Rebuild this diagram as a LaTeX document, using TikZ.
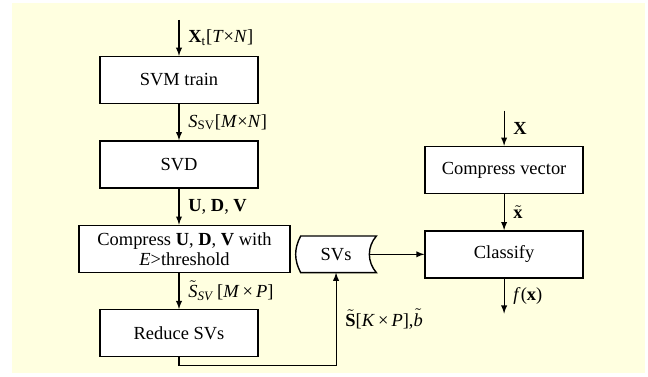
\documentclass[tikz,border=0pt]{standalone}
\usepackage{fontspec}
\setmainfont{Liberation Serif}
\usepackage{tikz}
\usetikzlibrary{arrows, positioning}
\definecolor{paper}{RGB}{255,255,224}
\newcommand{\tl}[1]{\ensuremath{\tilde{\mbox{#1}}}}
\tikzstyle{stage} = [rectangle, draw, line width=0.8pt, minimum width=3.16cm, minimum height=0.94cm, text centered, fill=white]
\tikzstyle{store} = [rectangle, minimum width=1.6cm, minimum height=0.72cm, text centered]
\tikzstyle{flow} = [line width=0.6pt, ->, >=latex]
\tikzstyle{lab} = [anchor=west, xshift=0.06cm]

\begin{document}
\begin{tikzpicture}[align=center, node distance=0.72cm, font=\fontsize{10.5}{11.5}\selectfont]
  \useasboundingbox (-3.58,1.6) rectangle (9.38,-5.92);
  \fill[paper] (-3.34,1.54) rectangle (9.32,-5.86);
  % training chain
  \node (svm) [stage] {SVM train};
  \node (svd) [stage, below=of svm] {SVD};
  \node (comp) [stage, minimum width=4.22cm, below=of svd, xshift=0.11cm] {Compress \textbf{U}, \textbf{D}, \textbf{V} with\\\textit{E}>threshold};
  \node (red) [stage, below=of comp, xshift=-0.11cm] {Reduce SVs};
  \coordinate (xtin) at ([yshift=0.72cm]svm.north);
  \coordinate (turn) at ([yshift=-0.16cm]red.south);
  \draw [flow] (xtin) -- node[lab]{\textbf{X}\textsubscript{t}[\textit{T}×\textit{N}]} (svm);
  \draw [flow] (svm) -- node[lab]{\textit{S}\textsubscript{SV}[\textit{M}×\textit{N}]} (svd);
  \draw [flow] (svd) -- node[lab]{\textbf{U}, \textbf{D}, \textbf{V}} (svd |- comp.north);
  \draw [flow] (red |- comp.south) -- node[lab]{\tl{\textit{S}}\textsubscript{\textit{SV}}\,[\textit{M}\,×\,\textit{P}]} (red);
  % stored SVs
  \node (svs) [store, right=0.1cm of comp, yshift=-0.11cm] {SVs};
  \draw [line width=0.8pt, fill=white] ([xshift=0.1cm]svs.north west) -- (svs.north east) to[bend right=41] (svs.south east) -- ([xshift=0.1cm]svs.south west) to[bend left=28] cycle;
  \node at (svs) {SVs};
  \draw [flow] (red) -- (turn) -| node[pos=0.75, lab]{\tl{\textbf{S}}[\textit{K}\,×\,\textit{P}],\tl{\textit{b}}} (svs);
  % classification chain
  \node (cls) [stage, right=0.96cm of svs] {Classify};
  \node (cvec) [stage, above=of cls] {Compress vector};
  \coordinate (xin) at ([yshift=0.7cm]cvec.north);
  \coordinate (fout) at ([yshift=-0.7cm]cls.south);
  \draw [flow] ([xshift=-0.14cm]svs.east) -- (cls);
  \draw [flow] (xin) -- node[lab]{\textbf{X}} (cvec);
  \draw [flow] (cvec) -- node[lab]{\tl{\textbf{x}}} (cls);
  \draw [flow] (cls) -- node[lab]{\textit{f}(\textbf{x})} (fout);
\end{tikzpicture}
\end{document}
